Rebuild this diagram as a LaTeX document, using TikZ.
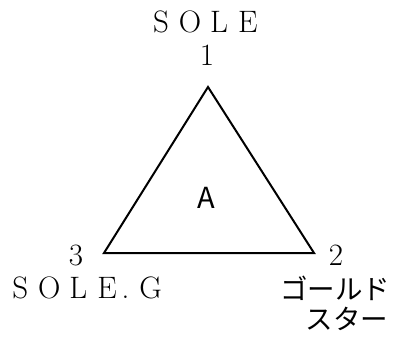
\documentclass[tikz,border=0pt]{standalone}
\usepackage{fontspec}
\newfontfamily\jp{Noto Sans CJK JP}
\newcommand{\fwc}[1]{\makebox[29pt][c]{#1}}
\newcommand{\hwc}[1]{\makebox[14.5pt][l]{#1}}
\begin{document}
\begin{tikzpicture}[x=1pt,y=1pt,
  lbl/.style={inner sep=0pt,anchor=base,font=\fontsize{31}{33}\selectfont},
  jlbl/.style={inner sep=0pt,font=\jp\fontsize{27.5}{30}\selectfont},
  edge/.style={line width=2pt,line join=miter}]
\useasboundingbox (0,0) rectangle (397,341);
\coordinate (v1) at (208,254);
\coordinate (v2) at (314,88);
\coordinate (v3) at (104,88);
\draw[edge] (v1) -- (v2) -- (v3) -- cycle;
\node[lbl] (n1) at (207,276) {1};
\node[lbl] (sole) at (204.5,308.5) {\fwc{S}\fwc{O}\fwc{L}\fwc{E}};
\node[lbl] (n3) at (76,76) {3};
\node[lbl] (n2) at (336,76) {2};
\node[lbl] (soleg) at (85.5,43) {\fwc{S}\fwc{O}\fwc{L}\fwc{E}\hwc{.}\fwc{G}};
\node[jlbl] (gold) at (335,53) {ゴールド};
\node[jlbl] (star) at (347,22) {スター};
\node[jlbl,font=\jp\fontsize{29}{31}\selectfont] (a) at (206,143) {A};
\end{tikzpicture}
\end{document}
